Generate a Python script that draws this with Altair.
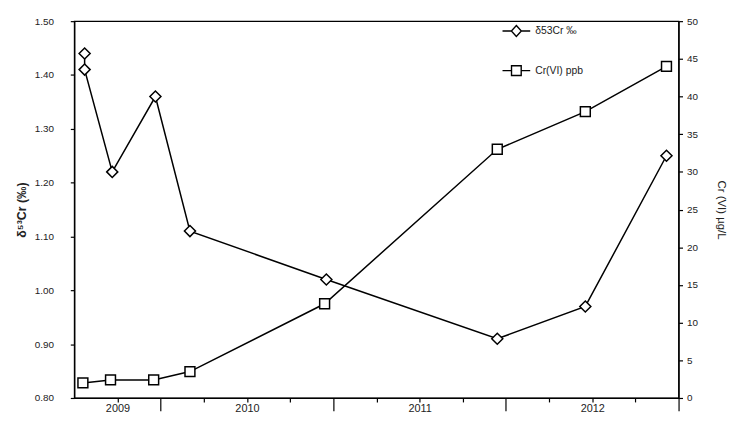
import altair as alt
import pandas as pd

# δ53Cr (‰) series — diamonds, left axis
d53_time = [2009.56, 2009.56, 2009.72, 2009.97, 2010.17, 2010.96, 2011.95, 2012.46, 2012.93]
d53_vals = [1.44, 1.41, 1.22, 1.36, 1.11, 1.02, 0.91, 0.97, 1.25]

# Cr(VI) ppb series — squares, right axis
cr_time = [2009.55, 2009.71, 2009.96, 2010.17, 2010.95, 2011.95, 2012.46, 2012.93]
cr_vals = [2.0, 2.4, 2.4, 3.5, 12.5, 33.0, 38.0, 44.0]

legend_labels = ["δ53Cr ‰", "Cr(VI) ppb"]
year_labels = ["2009", "2010", "2011", "2012"]
year_label_pos = [2009.75, 2010.5, 2011.5, 2012.5]
x_ticks = [2009.75, 2010.0, 2010.25, 2010.5, 2010.75, 2011.0, 2011.25,
           2011.5, 2011.75, 2012.0, 2012.25, 2012.5, 2012.75, 2013.0]
left_ticks = [0.8, 0.9, 1.0, 1.1, 1.2, 1.3, 1.4, 1.5]
right_ticks = [0, 5, 10, 15, 20, 25, 30, 35, 40, 45, 50]

df_d = pd.DataFrame({"t": d53_time, "d53": d53_vals, "i": list(range(len(d53_vals)))})
df_c = pd.DataFrame({"t": cr_time, "cr": cr_vals, "i": list(range(len(cr_vals)))})

FONT = "Liberation Sans"
TXT = "#222222"

label_expr = " : ".join(
    f"datum.value == {p} ? '{l}'" for p, l in zip(year_label_pos, year_labels)
) + " : ''"

x_enc = alt.X(
    "t:Q",
    scale=alt.Scale(domain=[2009.5, 2013.0], nice=False, zero=False),
    axis=alt.Axis(
        values=x_ticks,
        labelExpr=label_expr,
        tickSize={"condition": {"test": "datum.value % 1 == 0", "value": 13}, "value": 4},
        labelPadding=1,
        labelFlush=False,
        labelOverlap=False,
        labelFontSize=11,
        grid=False,
        title=None,
    ),
)

# legend symbols: line stub + marker outline
diamond_leg = "M-2,0H-0.72M0.72,0H2M0,-0.8L0.72,0L0,0.8L-0.72,0Z"
square_leg = "M-2,0H-0.7M0.7,0H2M-0.7,-0.7H0.7V0.7H-0.7Z"

y_left = alt.Y(
    "d53:Q",
    scale=alt.Scale(domain=[0.8, 1.5], nice=False, zero=False),
    axis=alt.Axis(
        orient="left",
        values=left_ticks,
        format=".2f",
        title="δ⁵³Cr (‰)",
        titleFontWeight="bold",
        titleFontSize=12.5,
        titlePadding=6,
        labelPadding=17,
        labelFontSize=10,
        tickSize=4,
        grid=False,
    ),
)

line_d = alt.Chart(df_d).mark_line(color="black", strokeWidth=1.5).encode(
    x=x_enc, y=y_left, order="i:Q"
)
pts_d = alt.Chart(df_d).mark_point(
    shape="diamond", size=125, filled=True, fill="white", stroke="black", strokeWidth=1.5, opacity=1
).encode(x=x_enc, y=y_left)

legend_layer = alt.Chart(df_d).transform_calculate(
    series="'δ53Cr ‰'"
).mark_point(filled=False, color="black", strokeWidth=1.4, opacity=0).encode(
    x=x_enc,
    y=y_left,
    shape=alt.Shape(
        "series:N",
        scale=alt.Scale(domain=legend_labels, range=[diamond_leg, square_leg]),
        legend=alt.Legend(
            orient="none",
            legendX=427,
            legendY=2,
            title=None,
            symbolSize=196,
            symbolStrokeWidth=1.4,
            symbolStrokeColor="black",
            symbolFillColor="white",
            symbolOpacity=1,
            symbolOffset=12,
            labelOffset=11,
            labelFontSize=10.5,
            labelFont=FONT,
            labelColor=TXT,
            rowPadding=23,
            padding=0,
        ),
    ),
)

left = alt.layer(line_d, pts_d, legend_layer)

y_right = alt.Y(
    "cr:Q",
    scale=alt.Scale(domain=[0, 50], nice=False, zero=True),
    axis=alt.Axis(
        orient="right",
        values=right_ticks,
        format="d",
        title="Cr (VI) µg/L",
        titleFontWeight="normal",
        titleFontSize=11.5,
        titlePadding=18,
        labelPadding=4,
        labelFontSize=10,
        tickSize=4,
        grid=False,
    ),
)

line_c = alt.Chart(df_c).mark_line(color="black", strokeWidth=1.5).encode(
    x=x_enc, y=y_right, order="i:Q"
)
pts_c = alt.Chart(df_c).mark_point(
    shape="square", size=100, filled=True, fill="white", stroke="black", strokeWidth=1.5, opacity=1
).encode(x=x_enc, y=y_right)

right = alt.layer(line_c, pts_c)

chart = (
    alt.layer(left, right)
    .resolve_scale(y="independent")
    .properties(
        width=611,
        height=381,
        autosize=alt.AutoSizeParams(type="none"),
        padding={"left": 67, "top": 11, "right": 51, "bottom": 23},
        background="white",
    )
    .configure_view(stroke="black", strokeWidth=1.3)
    .configure_axis(
        domainColor="black",
        domainWidth=1.3,
        tickColor="black",
        tickWidth=1.2,
        labelColor=TXT,
        titleColor=TXT,
        labelFont=FONT,
        titleFont=FONT,
    )
)

chart.save("out.html", embed_options={"renderer": "svg", "actions": False})
